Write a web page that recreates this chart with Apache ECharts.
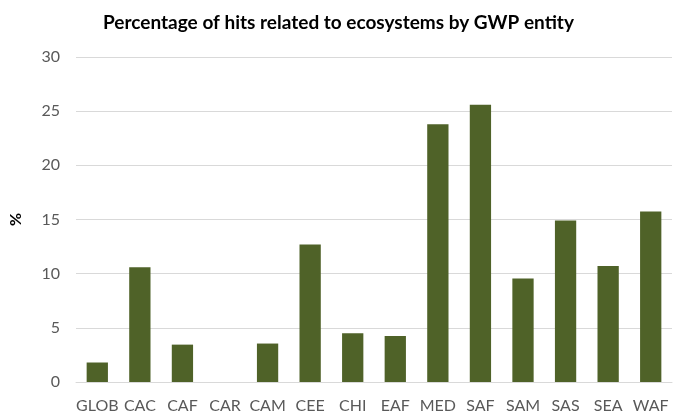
<!DOCTYPE html>
<html>
<head>
<meta charset="utf-8">
<script src="https://cdn.jsdelivr.net/npm/echarts@6/dist/echarts.min.js"></script>
<style>
  html, body { margin: 0; padding: 0; background: #fff; }
  #myChart { width: 677px; height: 414px; }
</style>
</head>
<body>
<div id="myChart"></div>
<script>
  // GWP entities along the x axis
  const entities = ['GLOB', 'CAC', 'CAF', 'CAR', 'CAM', 'CEE', 'CHI', 'EAF', 'MED', 'SAF', 'SAM', 'SAS', 'SEA', 'WAF'];
  // percentage of hits related to ecosystems
  const hitsPct = [1.8, 10.6, 3.45, 0, 3.55, 12.7, 4.5, 4.25, 23.8, 25.6, 9.55, 14.9, 10.7, 15.75];
  const yTicks = { min: 0, max: 30, step: 5 };

  const myChart = echarts.init(document.getElementById('myChart'));
  myChart.setOption({
    animation: false,
    title: {
      text: 'Percentage of hits related to ecosystems by GWP entity',
      left: 'center',
      top: 8,
      textStyle: { fontFamily: 'Lato', fontWeight: 'bold', fontSize: 19, color: '#000' }
    },
    grid: { left: 73, right: 5, top: 57, bottom: 32 },
    xAxis: {
      type: 'category',
      data: entities,
      axisLine: { show: true, lineStyle: { color: '#d9d9d9' } },
      axisTick: { show: false },
      axisLabel: { interval: 0, fontFamily: 'Lato', fontSize: 16, color: '#595959', margin: 16 }
    },
    yAxis: {
      type: 'value',
      min: yTicks.min,
      max: yTicks.max,
      interval: yTicks.step,
      name: '%',
      nameLocation: 'middle',
      nameGap: 52,
      nameRotate: 90,
      nameTextStyle: { fontFamily: 'Lato', fontWeight: 'bold', fontSize: 16, color: '#000' },
      axisLine: { show: false },
      axisTick: { show: false },
      splitLine: { lineStyle: { color: '#d9d9d9' } },
      axisLabel: { fontFamily: 'Lato', fontSize: 16, color: '#595959', margin: 16 }
    },
    series: [{
      type: 'bar',
      data: hitsPct,
      barCategoryGap: '50%',
      itemStyle: { color: '#4f6228' }
    }]
  });
</script>
</body>
</html>
